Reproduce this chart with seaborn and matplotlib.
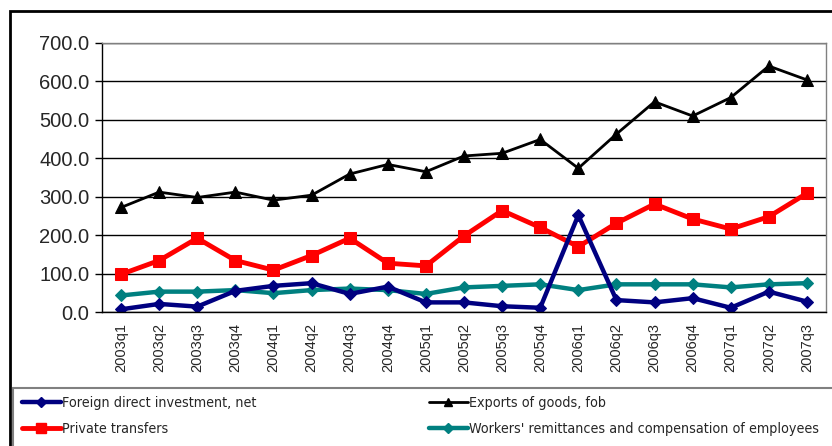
import pandas as pd
import matplotlib.pyplot as plt
import seaborn as sns
from matplotlib.patches import Rectangle
from matplotlib.lines import Line2D
from matplotlib.font_manager import FontProperties

# quarters and series
quarters = ['2003q1', '2003q2', '2003q3', '2003q4', '2004q1', '2004q2', '2004q3', '2004q4',
            '2005q1', '2005q2', '2005q3', '2005q4', '2006q1', '2006q2', '2006q3', '2006q4',
            '2007q1', '2007q2', '2007q3']
fdi = [7, 21, 14, 55, 68, 75, 47, 66, 25, 25, 15, 11, 252, 31, 25, 36, 11, 53, 27]
exports = [272, 312, 298, 312, 291, 304, 359, 384, 365, 406, 413, 449, 374, 463, 547, 510, 558, 640, 604]
private = [98, 134, 192, 134, 109, 147, 192, 127, 120, 198, 264, 220, 170, 231, 281, 242, 216, 248, 309]
workers = [43, 53, 53, 57, 49, 57, 61, 57, 47, 64, 68, 72, 57, 72, 72, 72, 64, 72, 75]

names = ['Foreign direct investment, net', 'Exports of goods, fob',
         'Private transfers', 'Workers\' remittances and compensation of employees']

df = pd.DataFrame({'quarter': quarters, names[0]: fdi, names[1]: exports,
                   names[2]: private, names[3]: workers})
df['pos'] = range(len(quarters))

sns.set_style('white')
plt.rcParams['font.family'] = ['Liberation Sans', 'DejaVu Sans']

fig = plt.figure(figsize=(8.32, 4.46), dpi=100)
W, H = 832, 446
ax = fig.add_axes([102 / W, (H - 312) / H, 724 / W, 269 / H])

# --- styles per series ---
styles = {
    names[0]: dict(color='#000080', marker='D', markersize=6, linewidth=3.2),
    names[1]: dict(color='black', marker='^', markersize=8, linewidth=2),
    names[2]: dict(color='#FF0000', marker='s', markersize=9, linewidth=3.5),
    names[3]: dict(color='#008080', marker='D', markersize=6, linewidth=3.2),
}
for n in [names[3], names[2], names[1], names[0]]:
    st = styles[n]
    sns.lineplot(data=df, x='pos', y=n, ax=ax, color=st['color'], marker=st['marker'],
                 markersize=st['markersize'], linewidth=st['linewidth'],
                 markeredgecolor=st['color'], legend=False)

ax.set_xlim(-0.5, len(quarters) - 0.5)
ax.set_ylim(0, 700)
ax.set_yticks(range(0, 701, 100))
ax.set_yticklabels([f'{v:.1f}' for v in range(0, 701, 100)], fontsize=14.5)
ax.yaxis.grid(True, color='black', linewidth=1)
ax.set_axisbelow(True)

# x ticks between categories, labels centred
ax.set_xticks([i - 0.5 for i in range(len(quarters) + 1)])
ax.set_xticklabels([])
ax.set_xticks(range(len(quarters)), minor=True)
ax.set_xticklabels(quarters, minor=True, rotation=90, fontsize=10.5)
ax.tick_params(axis='x', which='minor', length=0, pad=8)
ax.tick_params(axis='x', which='major', length=5, width=1, direction='out', color='black')
ax.tick_params(axis='y', length=5, width=1, direction='out', color='black', left=True, pad=4)
ax.set_xlabel('')
ax.set_ylabel('')

for s in ['top', 'right']:
    ax.spines[s].set_color('#808080')
for s in ['left', 'bottom']:
    ax.spines[s].set_color('black')
for s in ax.spines.values():
    s.set_linewidth(1)

# outer chart border and legend box
fig.patches.append(Rectangle((10 / W, -0.05), 1.0, (H - 11) / H + 0.05, transform=fig.transFigure,
                             fill=False, edgecolor='black', linewidth=2))
fig.patches.append(Rectangle((13 / W, -0.05), 1.0, (H - 388) / H + 0.05, transform=fig.transFigure,
                             fill=False, edgecolor='#808080', linewidth=1.5))

handles = []
for n in [names[0], names[2], names[1], names[3]]:
    st = styles[n]
    handles.append(Line2D([], [], color=st['color'], marker=st['marker'],
                          markersize=st['markersize'] * 0.8, linewidth=st['linewidth'],
                          markeredgecolor=st['color']))
legend_font = FontProperties(family='DejaVu Sans', stretch='condensed', size=10.3)
fig.legend(handles, [names[0], names[2], names[1], names[3]], ncol=2,
           loc='upper left', bbox_to_anchor=(16 / W, (H - 390) / H), frameon=False,
           prop=legend_font,
           handlelength=2.75, handletextpad=0.1, columnspacing=12.0, labelspacing=0.87,
           borderaxespad=0)

fig.savefig('out.png', dpi=100)
